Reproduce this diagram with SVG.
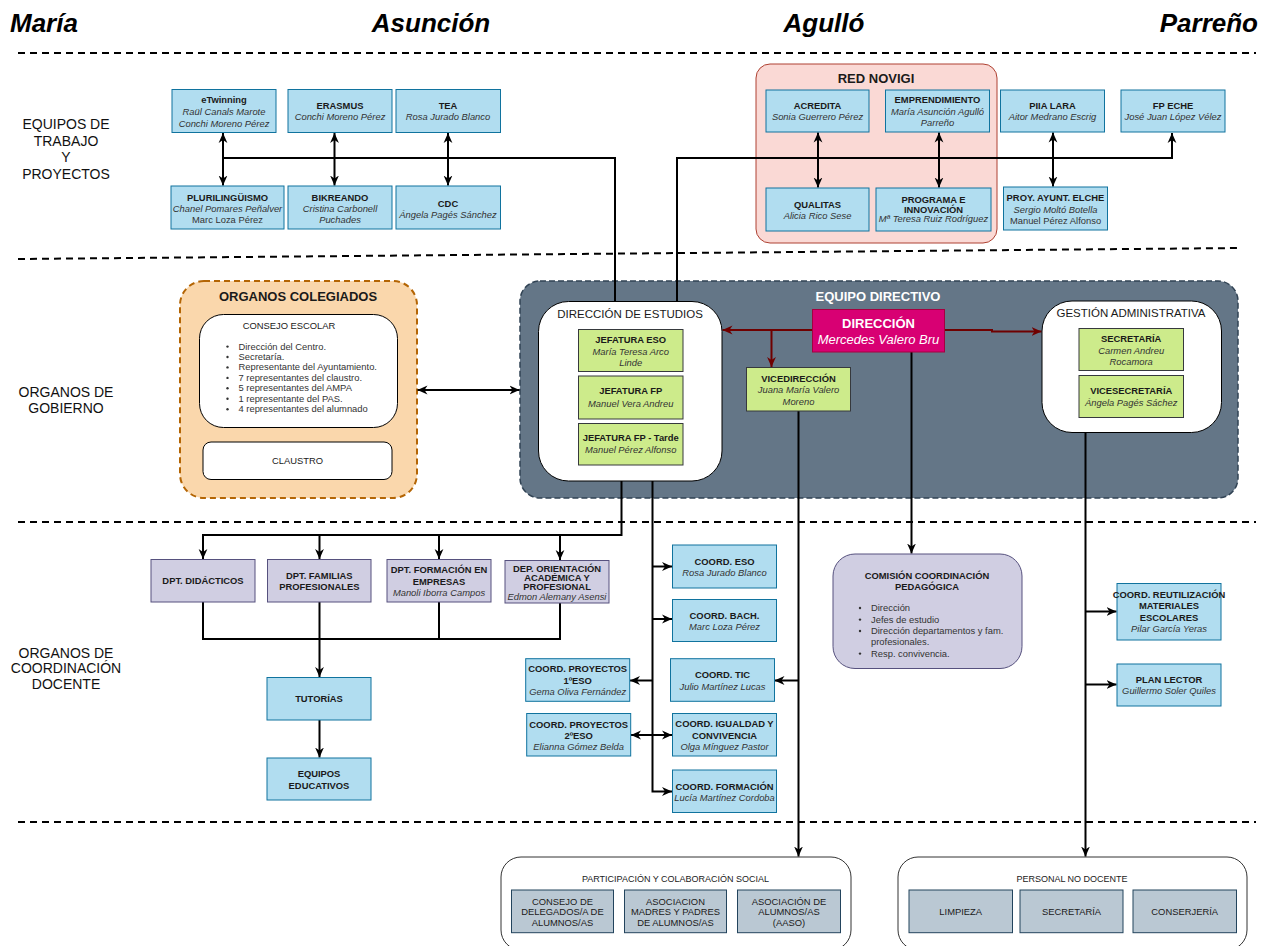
<svg xmlns="http://www.w3.org/2000/svg" width="1271" height="946" viewBox="0 0 1271 946">
<style>
text{font-family:"Liberation Sans",Arial,Helvetica,sans-serif}
.t{font-size:9.4px;text-anchor:middle;fill:#1a1a1a}
.l{font-size:9.4px;text-anchor:start;fill:#1a1a1a}
.b{font-weight:bold}
.i{font-style:italic;fill:#333}
.h{font-size:26px;font-weight:bold;font-style:italic;fill:#000}
.sec{font-size:14px;text-anchor:middle;fill:#111}
.blue{fill:#b1ddf0;stroke:#10739e;stroke-width:1}
.green{fill:#cdeb8b;stroke:#36393d;stroke-width:1}
.purple{fill:#d0cee2;stroke:#56517e;stroke-width:1}
.grey{fill:#bac8d3;stroke:#23445d;stroke-width:1}
.white{fill:#fff;stroke:#000;stroke-width:1}
.c{fill:none;stroke:#000;stroke-width:2}
.r{fill:none;stroke:#6f0000;stroke-width:2}
.sep{fill:none;stroke:#000;stroke-width:2;stroke-dasharray:7 5}
</style>
<defs>
<marker id="a" viewBox="0 0 10 10" refX="10" refY="5" markerWidth="10" markerHeight="10" markerUnits="userSpaceOnUse" orient="auto-start-reverse"><path d="M0,0.6 L10,5 L0,9.4 L3,5 z" fill="#000"/></marker>
<marker id="ar" viewBox="0 0 10 10" refX="10" refY="5" markerWidth="10" markerHeight="10" markerUnits="userSpaceOnUse" orient="auto-start-reverse"><path d="M0,0.6 L10,5 L0,9.4 L3,5 z" fill="#6f0000"/></marker>
</defs>
<rect width="1271" height="946" fill="#fff"/>

<g id="titles">
<text class="h" x="10" y="32">María</text>
<text class="h" x="431" y="32" text-anchor="middle">Asunción</text>
<text class="h" x="824" y="32" text-anchor="middle">Agulló</text>
<text class="h" x="1258" y="32" text-anchor="end">Parreño</text>
</g>

<g id="separators">
<line class="sep" x1="18" y1="53" x2="1256" y2="53"/>
<line class="sep" x1="18" y1="259" x2="1240" y2="248"/>
<line class="sep" x1="18" y1="522" x2="1256" y2="522"/>
<line class="sep" x1="18" y1="822" x2="1256" y2="822"/>
</g>

<g id="section-labels">
<text class="sec" x="66" y="129">EQUIPOS DE</text>
<text class="sec" x="66" y="146">TRABAJO</text>
<text class="sec" x="66" y="162">Y</text>
<text class="sec" x="66" y="179">PROYECTOS</text>
<text class="sec" x="66" y="397">ORGANOS DE</text>
<text class="sec" x="66" y="413">GOBIERNO</text>
<text class="sec" x="66" y="658">ORGANOS DE</text>
<text class="sec" x="66" y="673">COORDINACIÓN</text>
<text class="sec" x="66" y="689">DOCENTE</text>
</g>

<!-- containers -->
<g id="red-novigi">
<rect x="756" y="64" width="241" height="179" rx="14" fill="#fad9d5" stroke="#ae4132" stroke-width="1"/>
<text class="t b" x="876" y="82.5" style="font-size:13px">RED NOVIGI</text>
</g>
<g id="organos-colegiados">
<rect x="180" y="281" width="237" height="217" rx="24" fill="#fad7ac" stroke="#b46504" stroke-width="2" stroke-dasharray="6 4"/>
<text class="t b" x="298" y="300.5" style="font-size:13px">ORGANOS COLEGIADOS</text>
</g>
<g id="equipo-directivo">
<rect x="520" y="281" width="718" height="217" rx="20" fill="#647687" stroke="#314354" stroke-width="1.5" stroke-dasharray="6 3"/>
<text class="t b" x="878" y="300.5" style="font-size:13px;fill:#fff">EQUIPO DIRECTIVO</text>
</g>
<g id="participacion">
<rect x="501" y="857" width="350" height="93" rx="20" fill="#fff" stroke="#333" stroke-width="1"/>
<text class="t" x="675.5" y="881.5" style="font-size:9px">PARTICIPACIÓN Y COLABORACIÓN SOCIAL</text>
</g>
<g id="personal-no-docente">
<rect x="898" y="857" width="349" height="93" rx="20" fill="#fff" stroke="#333" stroke-width="1"/>
<text class="t" x="1072" y="881.5" style="font-size:9px">PERSONAL NO DOCENTE</text>
</g>

<g id="connectors">
<!-- top left -->
<line class="c" x1="223" y1="133" x2="223" y2="185.5" marker-start="url(#a)" marker-end="url(#a)"/>
<line class="c" x1="334.5" y1="133" x2="334.5" y2="185.5" marker-start="url(#a)" marker-end="url(#a)"/>
<line class="c" x1="448" y1="133" x2="448" y2="185.5" marker-start="url(#a)" marker-end="url(#a)"/>
<path class="c" d="M223,158 H615 V301.5"/>
<!-- top right -->
<path class="c" d="M677,301.5 V158 H1172 V133" marker-end="url(#a)"/>
<line class="c" x1="818" y1="132.5" x2="818" y2="187.5" marker-start="url(#a)" marker-end="url(#a)"/>
<line class="c" x1="939" y1="132.5" x2="939" y2="187.5" marker-start="url(#a)" marker-end="url(#a)"/>
<line class="c" x1="1053" y1="132.5" x2="1053" y2="186.5" marker-start="url(#a)" marker-end="url(#a)"/>
<!-- gobierno -->
<line class="c" x1="417.5" y1="390" x2="519.5" y2="390" marker-start="url(#a)" marker-end="url(#a)"/>
<path class="r" d="M812,330 H722.5" marker-end="url(#ar)"/>
<path class="r" d="M771.5,330 V367" marker-end="url(#ar)"/>
<path class="r" d="M945,330 H992 V331.5 H1041.5" marker-end="url(#ar)"/>
<!-- departamentos -->
<path class="c" d="M621.5,481 V535 H203 V559" marker-end="url(#a)"/>
<path class="c" d="M319.5,535 V559" marker-end="url(#a)"/>
<path class="c" d="M439,535 V559" marker-end="url(#a)"/>
<path class="c" d="M560,535 V560" marker-end="url(#a)"/>
<path class="c" d="M203,602 V639 H560 V603"/>
<path class="c" d="M439,602 V639"/>
<path class="c" d="M319.5,602 V677" marker-end="url(#a)"/>
<path class="c" d="M319.5,720 V757.5" marker-end="url(#a)"/>
<!-- coordinaciones -->
<path class="c" d="M652.5,481 V791.5 H672" marker-end="url(#a)"/>
<path class="c" d="M652.5,566.5 H672" marker-end="url(#a)"/>
<path class="c" d="M652.5,619 H672" marker-end="url(#a)"/>
<path class="c" d="M652.5,680.5 H630" marker-end="url(#a)"/>
<line class="c" x1="631" y1="735" x2="672" y2="735" marker-start="url(#a)" marker-end="url(#a)"/>
<!-- vicedireccion -->
<path class="c" d="M798.5,411 V856.5" marker-end="url(#a)"/>
<path class="c" d="M798.5,680.5 H774.5" marker-end="url(#a)"/>
<!-- direccion -->
<path class="c" d="M911.5,352 V553.5" marker-end="url(#a)"/>
<!-- gestion -->
<path class="c" d="M1085.5,432.5 V856.5" marker-end="url(#a)"/>
<path class="c" d="M1085.5,611.5 H1116.5" marker-end="url(#a)"/>
<path class="c" d="M1085.5,684.5 H1116.5" marker-end="url(#a)"/>
</g>

<!-- top nodes -->
<g id="etwinning"><rect class="blue" x="172" y="89.5" width="104" height="43"/>
<text class="t b" x="224" y="103.3">eTwinning</text><text class="t i" x="224" y="115">Raül Canals Marote</text><text class="t i" x="224" y="126.6">Conchi Moreno Pérez</text></g>
<g id="erasmus"><rect class="blue" x="288" y="89.5" width="104" height="43"/>
<text class="t b" x="340" y="109">ERASMUS</text><text class="t i" x="340" y="120">Conchi Moreno Pérez</text></g>
<g id="tea"><rect class="blue" x="396" y="89.5" width="104.5" height="43"/>
<text class="t b" x="448" y="109">TEA</text><text class="t i" x="448" y="120">Rosa Jurado Blanco</text></g>
<g id="plurilinguismo"><rect class="blue" x="171" y="186" width="113" height="43"/>
<text class="t b" x="227.5" y="200.6">PLURILINGÜISMO</text><text class="t i" x="227.5" y="211.6">Chanel Pomares Peñalver</text><text class="t" x="227.5" y="223.3" style="fill:#333">Marc Loza Pérez</text></g>
<g id="bikreando"><rect class="blue" x="288" y="186" width="104" height="43"/>
<text class="t b" x="340" y="200.6">BIKREANDO</text><text class="t i" x="340" y="211.6">Cristina Carbonell</text><text class="t i" x="340" y="223.3">Puchades</text></g>
<g id="cdc"><rect class="blue" x="396" y="186" width="104.5" height="43"/>
<text class="t b" x="448" y="206.6">CDC</text><text class="t i" x="448" y="218">Ángela Pagés Sánchez</text></g>

<g id="acredita"><rect class="blue" x="766" y="90" width="103" height="42"/>
<text class="t b" x="817.5" y="109">ACREDITA</text><text class="t i" x="817.5" y="120">Sonia Guerrero Pérez</text></g>
<g id="emprendimiento"><rect class="blue" x="885.5" y="90" width="104" height="42"/>
<text class="t b" x="937.5" y="102.6">EMPRENDIMIENTO</text><text class="t i" x="937.5" y="115">María Asunción Agulló</text><text class="t i" x="937.5" y="125.6">Parreño</text></g>
<g id="qualitas"><rect class="blue" x="766" y="188" width="103" height="43"/>
<text class="t b" x="817.5" y="208.3">QUALITAS</text><text class="t i" x="817.5" y="219.3">Alicia Rico Sese</text></g>
<g id="programa-innovacion"><rect class="blue" x="876" y="188" width="115" height="43"/>
<text class="t b" x="933.5" y="202.6">PROGRAMA E</text><text class="t b" x="933.5" y="212.6">INNOVACIÓN</text><text class="t i" x="933.5" y="221.8">Mª Teresa Ruiz Rodríguez</text></g>
<g id="piia-lara"><rect class="blue" x="1000.5" y="90" width="104" height="42"/>
<text class="t b" x="1052.5" y="109">PIIA LARA</text><text class="t i" x="1052.5" y="120">Aitor Medrano Escrig</text></g>
<g id="fp-eche"><rect class="blue" x="1121" y="90" width="104" height="42"/>
<text class="t b" x="1173" y="109">FP ECHE</text><text class="t i" x="1173" y="120">José Juan López Vélez</text></g>
<g id="proy-ayunt-elche"><rect class="blue" x="1003.5" y="187" width="104" height="43"/>
<text class="t b" x="1055.5" y="201">PROY. AYUNT. ELCHE</text><text class="t i" x="1055.5" y="213">Sergio Moltó Botella</text><text class="t" x="1055.5" y="224.3" style="fill:#333">Manuel Pérez Alfonso</text></g>

<!-- gobierno nodes -->
<g id="consejo-escolar"><rect class="white" x="199.5" y="314.5" width="198" height="113" rx="24"/>
<text class="t" x="289" y="329">CONSEJO ESCOLAR</text>
<g fill="#333"><circle cx="227.5" cy="346.6" r="1.2"/><circle cx="227.5" cy="357" r="1.2"/><circle cx="227.5" cy="367.4" r="1.2"/><circle cx="227.5" cy="377.9" r="1.2"/><circle cx="227.5" cy="388.3" r="1.2"/><circle cx="227.5" cy="398.8" r="1.2"/><circle cx="227.5" cy="409.3" r="1.2"/></g>
<text class="l" x="238.5" y="349.6" style="fill:#333">Dirección del Centro.</text>
<text class="l" x="238.5" y="360" style="fill:#333">Secretaría.</text>
<text class="l" x="238.5" y="370.4" style="fill:#333">Representante del Ayuntamiento.</text>
<text class="l" x="238.5" y="380.9" style="fill:#333">7 representantes del claustro.</text>
<text class="l" x="238.5" y="391.3" style="fill:#333">5 representantes del AMPA</text>
<text class="l" x="238.5" y="401.8" style="fill:#333">1 representante del PAS.</text>
<text class="l" x="238.5" y="412.3" style="fill:#333">4 representantes del alumnado</text></g>
<g id="claustro"><rect class="white" x="203" y="442" width="189" height="37.5" rx="8"/>
<text class="t" x="297.5" y="463.5">CLAUSTRO</text></g>

<g id="direccion-estudios"><rect class="white" x="538.5" y="301.5" width="183.5" height="179.5" rx="30"/>
<text class="t" x="630" y="318" style="font-size:11.5px">DIRECCIÓN DE ESTUDIOS</text></g>
<g id="jefatura-eso"><rect class="green" x="578.5" y="329.5" width="104.5" height="42"/>
<text class="t b" x="630.7" y="343.3">JEFATURA ESO</text><text class="t i" x="630.7" y="354.6">María Teresa Arco</text><text class="t i" x="630.7" y="366">Linde</text></g>
<g id="jefatura-fp"><rect class="green" x="578.5" y="376" width="104.5" height="43"/>
<text class="t b" x="630.7" y="394.3">JEFATURA FP</text><text class="t i" x="630.7" y="407.3">Manuel Vera Andreu</text></g>
<g id="jefatura-fp-tarde"><rect class="green" x="578.5" y="423.5" width="104.5" height="41.5"/>
<text class="t b" x="630.7" y="441">JEFATURA FP - Tarde</text><text class="t i" x="630.7" y="453.3">Manuel Pérez Alfonso</text></g>

<g id="direccion"><rect x="812.5" y="309.5" width="132" height="42.5" fill="#d80073" stroke="#a50040" stroke-width="1"/>
<text class="t b" x="878.5" y="328" style="font-size:13px;fill:#fff">DIRECCIÓN</text><text class="t" x="878.5" y="344" style="font-size:13px;font-style:italic;fill:#fff">Mercedes Valero Bru</text></g>
<g id="vicedireccion"><rect class="green" x="746.5" y="367.5" width="104" height="43.5"/>
<text class="t b" x="798.5" y="382">VICEDIRECCIÓN</text><text class="t i" x="798.5" y="393.3">Juana María Valero</text><text class="t i" x="798.5" y="405">Moreno</text></g>

<g id="gestion-administrativa"><rect class="white" x="1042" y="301" width="179.5" height="131.5" rx="30"/>
<text class="t" x="1131" y="316.7" style="font-size:11.5px">GESTIÓN ADMINISTRATIVA</text></g>
<g id="secretaria"><rect class="green" x="1079" y="328.5" width="104.5" height="42"/>
<text class="t b" x="1131.2" y="341.6">SECRETARÍA</text><text class="t i" x="1131.2" y="353.6">Carmen Andreu</text><text class="t i" x="1131.2" y="365">Rocamora</text></g>
<g id="vicesecretaria"><rect class="green" x="1079" y="375.5" width="104.5" height="42"/>
<text class="t b" x="1131.2" y="394.3">VICESECRETARÍA</text><text class="t i" x="1131.2" y="406.3">Ángela Pagés Sáchez</text></g>

<!-- coordinacion docente -->
<g id="dpt-didacticos"><rect class="purple" x="151" y="559.5" width="104" height="42.5"/>
<text class="t b" x="203" y="584.3">DPT. DIDÁCTICOS</text></g>
<g id="dpt-familias"><rect class="purple" x="267.5" y="559.5" width="103.5" height="42.5"/>
<text class="t b" x="319.3" y="578.6">DPT. FAMILIAS</text><text class="t b" x="319.3" y="590">PROFESIONALES</text></g>
<g id="dpt-formacion"><rect class="purple" x="387" y="559.5" width="104" height="42.5"/>
<text class="t b" x="439" y="573.3">DPT. FORMACIÓN EN</text><text class="t b" x="439" y="584.6">EMPRESAS</text><text class="t i" x="439" y="596">Manoli Iborra Campos</text></g>
<g id="dep-orientacion"><rect class="purple" x="505" y="560.5" width="104" height="42.5"/>
<text class="t b" x="557" y="571.6">DEP. ORIENTACIÓN</text><text class="t b" x="557" y="581">ACADÉMICA Y</text><text class="t b" x="557" y="590.3">PROFESIONAL</text><text class="t i" x="557" y="600">Edmon Alemany Asensi</text></g>
<g id="tutorias"><rect class="blue" x="267" y="677.5" width="104" height="42.5"/>
<text class="t b" x="319" y="702.3">TUTORÍAS</text></g>
<g id="equipos-educativos"><rect class="blue" x="267" y="758" width="104" height="42"/>
<text class="t b" x="319" y="777.3">EQUIPOS</text><text class="t b" x="319" y="788.6">EDUCATIVOS</text></g>

<g id="coord-eso"><rect class="blue" x="672.5" y="545" width="104" height="43"/>
<text class="t b" x="724.5" y="565">COORD. ESO</text><text class="t i" x="724.5" y="576.3">Rosa Jurado Blanco</text></g>
<g id="coord-bach"><rect class="blue" x="672.5" y="599.5" width="104" height="42"/>
<text class="t b" x="724.5" y="619">COORD. BACH.</text><text class="t i" x="724.5" y="630.3">Marc Loza Pérez</text></g>
<g id="coord-proy-1eso"><rect class="blue" x="525.7" y="658.7" width="104" height="42.6"/>
<text class="t b" x="577.7" y="672.3">COORD. PROYECTOS</text><text class="t b" x="577.7" y="684">1ºESO</text><text class="t i" x="577.7" y="695.3">Gema Oliva Fernández</text></g>
<g id="coord-tic"><rect class="blue" x="670.5" y="658.7" width="104" height="42.6"/>
<text class="t b" x="722.5" y="678.3">COORD. TIC</text><text class="t i" x="722.5" y="690">Julio Martínez Lucas</text></g>
<g id="coord-proy-2eso"><rect class="blue" x="526.7" y="713.5" width="104" height="42.5"/>
<text class="t b" x="578.7" y="728.3">COORD. PROYECTOS</text><text class="t b" x="578.7" y="738.8">2ºESO</text><text class="t i" x="578.7" y="750">Elianna Gómez Belda</text></g>
<g id="coord-igualdad"><rect class="blue" x="672.5" y="713.5" width="104" height="42.5"/>
<text class="t b" x="724.5" y="727.3">COORD. IGUALDAD Y</text><text class="t b" x="724.5" y="738.8">CONVIVENCIA</text><text class="t i" x="724.5" y="750">Olga Mínguez Pastor</text></g>
<g id="coord-formacion"><rect class="blue" x="672.5" y="770" width="104" height="42.5"/>
<text class="t b" x="724.5" y="789.6">COORD. FORMACIÓN</text><text class="t i" x="724.5" y="801">Lucía Martínez Cordoba</text></g>

<g id="comision-ccp"><rect class="purple" x="833" y="554" width="189" height="114.5" rx="22"/>
<text class="t b" x="927" y="579">COMISIÓN COORDINACIÓN</text><text class="t b" x="927" y="590.3">PEDAGÓGICA</text>
<g fill="#333"><circle cx="860" cy="608" r="1.2"/><circle cx="860" cy="619.6" r="1.2"/><circle cx="860" cy="631" r="1.2"/><circle cx="860" cy="653.6" r="1.2"/></g>
<text class="l" x="871" y="611" style="fill:#333">Dirección</text>
<text class="l" x="871" y="622.6" style="fill:#333">Jefes de estudio</text>
<text class="l" x="871" y="634" style="fill:#333">Dirección departamentos y fam.</text>
<text class="l" x="871" y="645.3" style="fill:#333">profesionales.</text>
<text class="l" x="871" y="656.6" style="fill:#333">Resp. convivencia.</text></g>

<g id="coord-reutilizacion"><rect class="blue" x="1117" y="583.5" width="104" height="56.5"/>
<text class="t b" x="1169" y="598">COORD. REUTILIZACIÓN</text><text class="t b" x="1169" y="609.3">MATERIALES</text><text class="t b" x="1169" y="620.6">ESCOLARES</text><text class="t i" x="1169" y="632">Pilar García Yeras</text></g>
<g id="plan-lector"><rect class="blue" x="1117" y="664" width="104" height="42"/>
<text class="t b" x="1169" y="683">PLAN LECTOR</text><text class="t i" x="1169" y="694.3">Guillermo Soler Quiles</text></g>

<!-- bottom -->
<g id="consejo-delegados"><rect class="grey" x="511.5" y="890" width="102" height="42.7"/>
<text class="t" x="562.5" y="905">CONSEJO DE</text><text class="t" x="562.5" y="915.3">DELEGADOS/A DE</text><text class="t" x="562.5" y="925.6">ALUMNOS/AS</text></g>
<g id="ampa"><rect class="grey" x="624.5" y="890" width="102" height="42.7"/>
<text class="t" x="675.5" y="905">ASOCIACION</text><text class="t" x="675.5" y="915.3">MADRES Y PADRES</text><text class="t" x="675.5" y="925.6">DE ALUMNOS/AS</text></g>
<g id="aaso"><rect class="grey" x="737.5" y="890" width="103" height="42.7"/>
<text class="t" x="789" y="905">ASOCIACIÓN DE</text><text class="t" x="789" y="915.3">ALUMNOS/AS</text><text class="t" x="789" y="925.6">(AASO)</text></g>
<g id="limpieza"><rect class="grey" x="909" y="890" width="103.5" height="42.7"/>
<text class="t" x="960.7" y="915.3">LIMPIEZA</text></g>
<g id="secretaria-pnd"><rect class="grey" x="1020" y="890" width="103" height="42.7"/>
<text class="t" x="1071.5" y="915.3">SECRETARÍA</text></g>
<g id="conserjeria"><rect class="grey" x="1133" y="890" width="103.5" height="42.7"/>
<text class="t" x="1184.7" y="915.3">CONSERJERÍA</text></g>
</svg>
